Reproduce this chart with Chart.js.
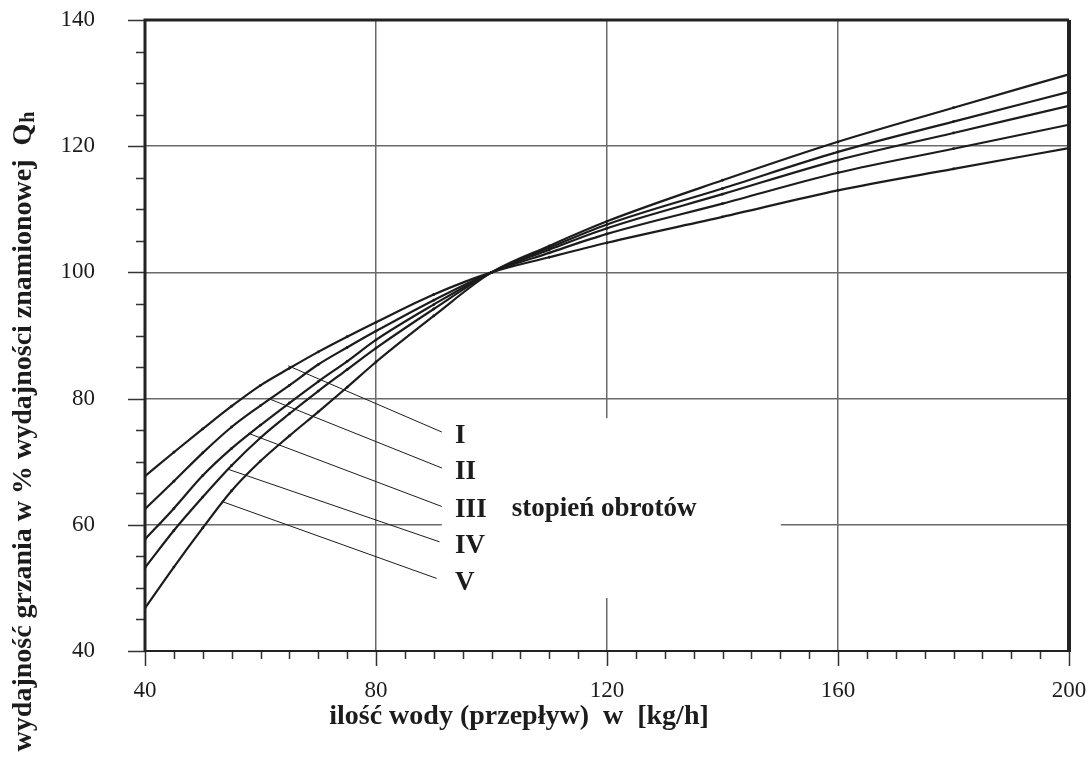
<!DOCTYPE html>
<html><head><meta charset="utf-8">
<script src="https://cdn.jsdelivr.net/npm/chart.js@4.4.1/dist/chart.umd.min.js"></script>
<style>html,body{margin:0;padding:0;background:#fff;}canvas{display:block;}</style>
</head><body>
<canvas id="c" width="1091" height="758"></canvas>
<script>
// ---- data ----
const flow    = [40, 45, 50, 55, 60, 65, 70, 75, 80, 90, 100, 110, 120, 140, 160, 180, 200];
const stageI   = [67.7, 71.5, 75.2, 78.8, 82.1, 84.8, 87.4, 89.8, 92.1, 96.5, 100, 102.4, 104.7, 108.8, 113.0, 116.4, 119.7];
const stageII  = [62.5, 66.9, 71.4, 75.5, 78.9, 82.1, 85.4, 88.1, 90.7, 95.6, 100, 103.1, 106.1, 110.9, 115.8, 119.6, 123.4];
const stageIII = [57.7, 62.6, 67.8, 72.1, 75.8, 79.3, 82.7, 85.9, 89.3, 94.9, 100, 103.6, 107.0, 112.4, 117.8, 122.1, 126.4];
const stageIV  = [53.2, 59.1, 64.4, 69.4, 73.8, 77.6, 81.2, 84.6, 88.0, 94.2, 100, 103.9, 107.6, 113.3, 119.1, 123.9, 128.6];
const stageV   = [46.8, 53.3, 59.5, 65.4, 70.1, 74.1, 77.9, 81.8, 85.8, 93.1, 100, 104.2, 108.1, 114.6, 120.7, 126.1, 131.4];
const stageNames = ['I', 'II', 'III', 'IV', 'V'];
// leader lines (data coordinates)
const leaderStartX = [64.8, 61.4, 57.9, 54.4, 53.3];
const leaderStartY = [85.2, 80.0, 74.5, 68.8, 63.7];
const leaderEndX   = [91.4, 91.4, 91.4, 91.0, 90.5];
const leaderEndY   = [74.7, 69.0, 62.9, 57.3, 51.5];
const labelX = 93.7;
const labelY = [74.1, 68.3, 62.4, 56.6, 50.8];
const groupLabel = 'stopień obrotów';
const groupLabelX = 103.5, groupLabelY = 62.5;
const xTitle = 'ilość wody (przepływ)  w  [kg/h]';
const yTitle = 'wydajność grzania w % wydajności znamionowej  Q';
const yTitleSub = 'h';
const xMin = 40, xMax = 200, xStep = 40, xMinor = 5;
const yMin = 40, yMax = 140, yStep = 20, yMinor = 5;
// blank area behind the labels (data coordinates)
const maskX = [91.4, 150.1], maskY = [48.4, 76.9];

const series = [stageI, stageII, stageIII, stageIV, stageV];
const INK = '#1c1c1c';
const SERIF = '"Liberation Serif", "Times New Roman", serif';

const datasets = series.map((s, i) => ({
  label: stageNames[i],
  data: flow.map((f, k) => ({x: f, y: s[k]})),
  borderColor: INK, borderWidth: 2.2,
  pointRadius: 1.4, pointBackgroundColor: INK, pointBorderWidth: 0,
  cubicInterpolationMode: 'monotone', fill: false
}));
stageNames.forEach((n, i) => datasets.push({
  label: 'leader ' + n,
  data: [{x: leaderStartX[i], y: leaderStartY[i]}, {x: leaderEndX[i], y: leaderEndY[i]}],
  borderColor: INK, borderWidth: 1, pointRadius: 0, fill: false
}));

const decor = {
  id: 'decor',
  beforeDatasetsDraw(chart) {
    const {ctx, scales: {x, y}} = chart;
    const x0 = x.getPixelForValue(maskX[0]), x1 = x.getPixelForValue(maskX[1]);
    const y0 = y.getPixelForValue(maskY[1]), y1 = y.getPixelForValue(maskY[0]);
    ctx.save(); ctx.fillStyle = '#fff'; ctx.fillRect(x0, y0, x1 - x0, y1 - y0); ctx.restore();
  },
  afterDraw(chart) {
    const {ctx, chartArea: a, scales: {x, y}} = chart;
    ctx.save();
    // ticks
    ctx.strokeStyle = '#333'; ctx.lineWidth = 1.5;
    ctx.beginPath();
    for (let v = yMin; v <= yMax + 1e-9; v += yMinor) {
      const p = Math.round(y.getPixelForValue(v)) + 0.5;
      const len = (v % yStep === 0) ? 17 : 9;
      ctx.moveTo(a.left - len, p); ctx.lineTo(a.left, p);
    }
    for (let v = xMin; v <= xMax + 1e-9; v += xMinor) {
      const p = Math.round(x.getPixelForValue(v)) + 0.5;
      const len = (v % xStep === 0) ? 15 : 8;
      ctx.moveTo(p, a.bottom); ctx.lineTo(p, a.bottom + len);
    }
    ctx.stroke();
    // frame
    ctx.strokeStyle = '#222';
    ctx.lineWidth = 2;
    ctx.beginPath(); ctx.moveTo(a.left, a.bottom); ctx.lineTo(a.right, a.bottom); ctx.stroke();
    ctx.lineWidth = 3;
    ctx.beginPath(); ctx.moveTo(a.left, a.bottom + 1); ctx.lineTo(a.left, a.top); ctx.lineTo(a.right, a.top); ctx.stroke();
    ctx.lineWidth = 4;
    ctx.beginPath(); ctx.moveTo(a.right, a.top); ctx.lineTo(a.right, a.bottom + 1); ctx.stroke();
    // stage labels
    ctx.fillStyle = INK;
    ctx.font = 'bold 27px ' + SERIF;
    ctx.textAlign = 'left'; ctx.textBaseline = 'middle';
    stageNames.forEach((n, i) => ctx.fillText(n, x.getPixelForValue(labelX), y.getPixelForValue(labelY[i])));
    ctx.fillText(groupLabel, x.getPixelForValue(groupLabelX), y.getPixelForValue(groupLabelY));
    // x title
    ctx.font = 'bold 28px ' + SERIF;
    ctx.textAlign = 'center';
    ctx.fillText(xTitle, 519, 717);
    // y title (rotated, with subscript)
    ctx.translate(24, 432);
    ctx.rotate(-Math.PI / 2);
    ctx.font = 'bold 28px ' + SERIF;
    const w1 = ctx.measureText(yTitle).width;
    ctx.font = 'bold 20px ' + SERIF;
    const w2 = ctx.measureText(yTitleSub).width;
    const start = -(w1 + w2) / 2;
    ctx.textAlign = 'left';
    ctx.font = 'bold 28px ' + SERIF;
    ctx.fillText(yTitle, start, 0);
    ctx.font = 'bold 20px ' + SERIF;
    ctx.fillText(yTitleSub, start + w1 + 1, 5);
    ctx.restore();
  }
};

new Chart(document.getElementById('c'), {
  type: 'line',
  data: {datasets},
  plugins: [decor],
  options: {
    responsive: false, animation: false,
    layout: {padding: {top: 20, right: 22, left: 0, bottom: 0}},
    plugins: {legend: {display: false}, tooltip: {enabled: false}},
    scales: {
      x: {
        type: 'linear', min: xMin, max: xMax,
        ticks: {stepSize: xStep, color: INK, font: {family: SERIF, size: 23}, padding: 26, maxRotation: 0},
        grid: {drawTicks: false, lineWidth: 1.5,
               color: c => (c.tick && (c.tick.value === xMin || c.tick.value === xMax)) ? 'rgba(0,0,0,0)' : '#6a6a6a'},
        border: {display: false},
        afterFit: s => { s.height = 107; s.paddingLeft = 0; s.paddingRight = 0; }
      },
      y: {
        type: 'linear', min: yMin, max: yMax,
        ticks: {stepSize: yStep, color: INK, font: {family: SERIF, size: 23}, padding: 50},
        grid: {drawTicks: false, lineWidth: 1.5,
               color: c => (c.tick && (c.tick.value === yMin || c.tick.value === yMax)) ? 'rgba(0,0,0,0)' : '#6a6a6a'},
        border: {display: false},
        afterFit: s => { s.width = 145; s.paddingTop = 0; s.paddingBottom = 0; }
      }
    }
  }
});
</script>
</body></html>
